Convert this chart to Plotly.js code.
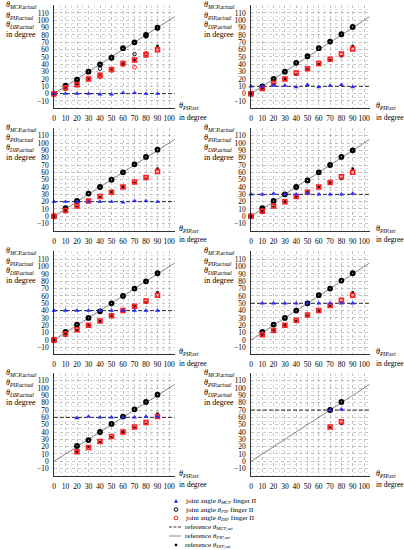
<!DOCTYPE html>
<html><head><meta charset="utf-8">
<script src="https://cdn.plot.ly/plotly-3.0.1.min.js"></script>
<style>html,body{margin:0;padding:0;background:#fff}#chart{width:404px;height:550px}</style>
</head><body><div id="chart"></div>
<script>
// ---- data ----
const pipSet = [0,10,20,30,40,50,60,70,80,90];
const mcpSet = [0,10,20,30,40,50,60,70];
const firstIndex = [0,0,0,0,0,1,2,7];
const lastIndex = [10,10,10,10,10,10,10,9];
const dipRef = [0,6,13,20,26,33,40,46,51,65];
const xTicks = [0,10,20,30,40,50,60,70,80,90,100];
const yTicks = [-10,0,10,20,30,40,50,60,70,80,90,100,110];
const xAxisMax = 105;

const mcpActual0 = [0,0,0,0,-1,-1,1,1,0,0];
const mcpActual1 = [10,10,11,11,9,12,9,11,12,9];
const mcpActual2 = [20,20,20,20,20,20,19,21,21,20];
const mcpActual3 = [30,30,31,30,30,31,30,30,30,31];
const mcpActual4 = [40,40,40,40,40,40,40,40,40,40];
const mcpActual5 = [50,50,50,50,50,50,50,50,50];
const mcpActual6 = [59,61,60,60,60,60,61,61];
const mcpActual7 = [70,71];

const pipActual0 = [0,11,19,30,40,49,62,70,80,90];
const pipActual1 = [0,10,20,30,42,51,62,71,81,91];
const pipActual2 = [0,11,21,31,40,50,60,71,81,91];
const pipActual3 = [0,11,21,30,40,49,60,70,81,90];
const pipActual4 = [0,11,21,30,39,50,60,70,80,91];
const pipActual5 = [11,21,30,40,50,61,70,81,91];
const pipActual6 = [21,29,40,51,61,71,81,91];
const pipActual7 = [70,81];

const dipActual0 = [0,8,12,20,25,33,41,46,53,60];
const dipActual1 = [0,7,14,20,28,34,41,47,54,61];
const dipActual2 = [0,8,14,21,27,33,40,47,53,61];
const dipActual3 = [0,7,14,20,27,33,40,46,54,60];
const dipActual4 = [0,8,14,20,26,33,40,46,53,61];
const dipActual5 = [7,13,20,27,34,40,47,54,61];
const dipActual6 = [13,19,27,34,40,47,53,61];
const dipActual7 = [47,54];

// second trial in the first panel (visible outliers)
const pipTrial2Panel0 = [0,10,20,31,34,48,61,54,78,89];
const dipTrial2Panel0 = [0,7,13,21,23,32,40,36,55,60];

const mcpAll = [mcpActual0,mcpActual1,mcpActual2,mcpActual3,mcpActual4,mcpActual5,mcpActual6,mcpActual7];
const pipAll = [pipActual0,pipActual1,pipActual2,pipActual3,pipActual4,pipActual5,pipActual6,pipActual7];
const dipAll = [dipActual0,dipActual1,dipActual2,dipActual3,dipActual4,dipActual5,dipActual6,dipActual7];

// ---- layout helpers ----
const W = 404, H = 550;
const X = px => px / W;
const Y = py => 1 - py / H;
const FONT = 'Liberation Serif, DejaVu Serif, serif';
const colPx = [[54, 174.75], [251, 369.65]];
const rowTop110 = [13, 135.7, 259.3, 380.7];
const pxPerUnitY = 0.733;
const yMin = -20, yMax = 121;

const traces = [];
const layout = {
  width: W, height: H, margin: {l:0,r:0,t:0,b:0},
  paper_bgcolor: '#fff', plot_bgcolor: '#fff',
  showlegend: false, font: {family: FONT, size: 8, color: '#000'},
  annotations: [], shapes: []
};

for (let k = 0; k < 8; k++) {
  const col = k % 2, row = Math.floor(k / 2);
  const n = k === 0 ? '' : String(k + 1);
  const xa = 'x' + n, ya = 'y' + n;
  const top = rowTop110[row] - (yMax - 110) * pxPerUnitY;
  const bottom = rowTop110[row] + (110 - yMin) * pxPerUnitY;
  layout['xaxis' + n] = {
    domain: [X(colPx[col][0]), X(colPx[col][1])], anchor: ya,
    range: [0, xAxisMax], tickvals: xTicks, ticktext: xTicks.map(String), tickangle: 0,
    showgrid: true, gridcolor: '#aaaaaa', gridwidth: 0.6, griddash: 'dot',
    minor: {dtick: 5, tick0: 0, showgrid: true, gridcolor: '#cccccc', gridwidth: 0.5, griddash: 'dot'},
    zeroline: false, showline: true, linecolor: '#000', linewidth: 0.8,
    ticks: '', ticklabelstandoff: 3, tickfont: {family: FONT, size: 7.5, color: '#000'}, fixedrange: true
  };
  layout['yaxis' + n] = {
    domain: [Y(bottom), Y(top)], anchor: xa,
    range: [yMin, yMax], tickvals: yTicks,
    showgrid: true, gridcolor: '#aaaaaa', gridwidth: 0.6, griddash: 'dot',
    minor: {dtick: 5, tick0: 0, showgrid: true, gridcolor: '#cccccc', gridwidth: 0.5, griddash: 'dot'},
    zeroline: false, showline: true, linecolor: '#000', linewidth: 0.8,
    ticks: '', ticklabelstandoff: 3, tickfont: {family: FONT, size: 7.5, color: '#000'}, fixedrange: true
  };
  const xs = pipSet.slice(firstIndex[k], lastIndex[k]);
  // reference MCP (dashed)
  traces.push({x: [0, xAxisMax], y: [mcpSet[k], mcpSet[k]], xaxis: xa, yaxis: ya, mode: 'lines',
    line: {color: '#000', width: 0.8, dash: '4px,2px'}, hoverinfo: 'skip'});
  // reference PIP (diagonal)
  traces.push({x: [0, xAxisMax], y: [0, xAxisMax], xaxis: xa, yaxis: ya, mode: 'lines',
    line: {color: '#555', width: 0.7}, hoverinfo: 'skip'});
  // reference DIP
  traces.push({x: xs, y: dipRef.slice(firstIndex[k], lastIndex[k]), xaxis: xa, yaxis: ya, mode: 'markers', cliponaxis: false,
    marker: {symbol: 'square', size: 2.5, color: '#000'}});
  // PIP actual
  traces.push({x: xs, y: pipAll[k], xaxis: xa, yaxis: ya, mode: 'markers', cliponaxis: false,
    marker: {symbol: 'circle-open', size: 3.5, color: '#000', line: {width: 2.3, color: '#000'}}});
  if (k === 0) {
    traces.push({x: xs, y: pipTrial2Panel0, xaxis: xa, yaxis: ya, mode: 'markers', cliponaxis: false,
      marker: {symbol: 'circle-open', size: 3.5, color: '#000', line: {width: 0.9, color: '#000'}}});
    traces.push({x: xs, y: dipTrial2Panel0, xaxis: xa, yaxis: ya, mode: 'markers', cliponaxis: false,
      marker: {symbol: 'circle-open', size: 4, color: '#ff3030', line: {width: 1, color: '#ff3030'}}});
  }
  // DIP actual
  traces.push({x: xs, y: dipAll[k], xaxis: xa, yaxis: ya, mode: 'markers', cliponaxis: false,
    marker: {symbol: 'square-open', size: 3.8, color: '#ff2020', line: {width: 1.7, color: '#ff2020'}}});
  // MCP actual
  traces.push({x: xs, y: mcpAll[k], xaxis: xa, yaxis: ya, mode: 'markers', cliponaxis: false,
    marker: {symbol: 'triangle-up', size: 4.5, color: '#2a2aff', line: {width: 0}}});

  // axis arrows
  layout.annotations.push({xref: xa, yref: ya, x: 0, y: yMax + 1, ax: 0, ay: 14,
    text: '', showarrow: true, arrowhead: 2, arrowsize: 0.7, arrowwidth: 0.9, arrowcolor: '#000'});
  layout.annotations.push({xref: xa, yref: ya, x: xAxisMax + 1, y: yMin, ax: -14, ay: 0,
    text: '', showarrow: true, arrowhead: 2, arrowsize: 0.7, arrowwidth: 0.9, arrowcolor: '#000'});

  // y labels
  const lx = col === 0 ? 4 : 202;
  const t110 = rowTop110[row];
  const ylabels = ['<i>θ</i><sub><i>MCP,actual</i></sub>', '<i>θ</i><sub><i>PIP,actual</i></sub>',
                   '<i>θ</i><sub><i>DIP,actual</i></sub>', 'in degree'];
  const yoffs = [-8, 2.5, 12, 21.5];
  ylabels.forEach((t, i) => layout.annotations.push({xref: 'paper', yref: 'paper', x: X(lx), y: Y(t110 + yoffs[i]),
    xanchor: 'left', yanchor: 'middle', text: t, showarrow: false, font: {family: FONT, size: 8, color: '#000'}}));
  // x labels
  const rx = col === 0 ? 177 : 374;
  layout.annotations.push({xref: 'paper', yref: 'paper', x: X(rx), y: Y(t110 + 93), xanchor: 'left', yanchor: 'middle',
    text: '<i>θ</i><sub><i>PIP,set</i></sub>', showarrow: false, font: {family: FONT, size: 8, color: '#000'}});
  layout.annotations.push({xref: 'paper', yref: 'paper', x: X(rx), y: Y(t110 + 104), xanchor: 'left', yanchor: 'middle',
    text: 'in degree', showarrow: false, font: {family: FONT, size: 7.5, color: '#000'}});
}

// ---- custom legend ----
const legendTexts = ['joint angle <i>θ</i><sub><i>MCP</i></sub> finger II',
  'joint angle <i>θ</i><sub><i>PIP</i></sub> finger II',
  'joint angle <i>θ</i><sub><i>DIP</i></sub> finger II',
  'reference <i>θ</i><sub><i>MCP,set</i></sub>',
  'reference <i>θ</i><sub><i>PIP,set</i></sub>',
  'reference <i>θ</i><sub><i>DIP,set</i></sub>'];
const legY = [501, 509.5, 518, 527, 536, 545];
const gx = 176;
legendTexts.forEach((t, i) => layout.annotations.push({xref: 'paper', yref: 'paper', x: X(183), y: Y(legY[i]),
  xanchor: 'left', yanchor: 'middle', text: t, showarrow: false, font: {family: FONT, size: 7, color: '#000'}}));
const P = (px, py) => X(px) + ',' + Y(py);
layout.shapes.push({type: 'path', xref: 'paper', yref: 'paper',
  path: 'M' + P(gx - 2, legY[0] + 1.8) + ' L' + P(gx + 2, legY[0] + 1.8) + ' L' + P(gx, legY[0] - 2) + ' Z',
  fillcolor: '#2a2aff', line: {width: 0}});
layout.shapes.push({type: 'circle', xref: 'paper', yref: 'paper', x0: X(gx - 1.8), x1: X(gx + 1.8), y0: Y(legY[1] + 1.8), y1: Y(legY[1] - 1.8),
  line: {color: '#000', width: 1}});
layout.shapes.push({type: 'circle', xref: 'paper', yref: 'paper', x0: X(gx - 1.8), x1: X(gx + 1.8), y0: Y(legY[2] + 1.8), y1: Y(legY[2] - 1.8),
  line: {color: '#ff2020', width: 1}});
layout.shapes.push({type: 'line', xref: 'paper', yref: 'paper', x0: X(169), x1: X(181), y0: Y(legY[3]), y1: Y(legY[3]),
  line: {color: '#000', width: 0.8, dash: '3px,1.5px'}});
layout.shapes.push({type: 'line', xref: 'paper', yref: 'paper', x0: X(169), x1: X(181), y0: Y(legY[4]), y1: Y(legY[4]),
  line: {color: '#555', width: 0.7}});
layout.shapes.push({type: 'rect', xref: 'paper', yref: 'paper', x0: X(gx - 1.2), x1: X(gx + 1.2), y0: Y(legY[5] + 1.2), y1: Y(legY[5] - 1.2),
  fillcolor: '#000', line: {width: 0}});

Plotly.newPlot('chart', traces, layout, {staticPlot: true, displayModeBar: false});
</script></body></html>
